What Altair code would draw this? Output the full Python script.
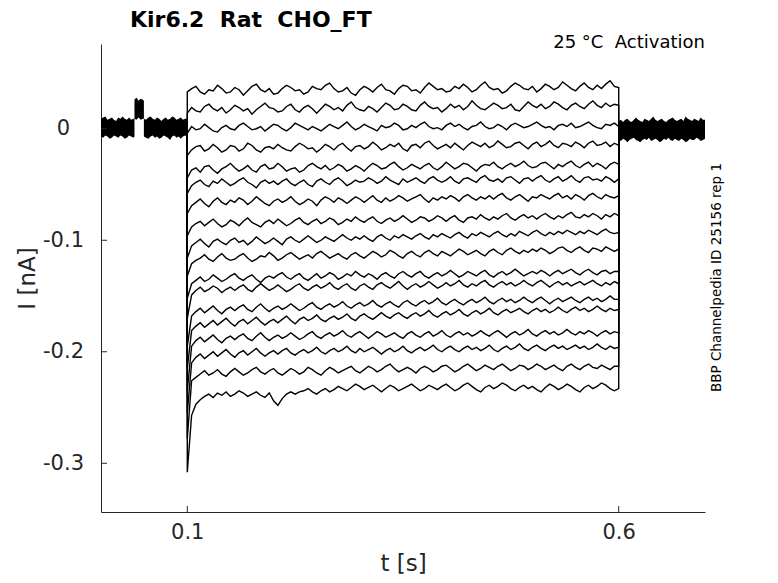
import altair as alt
import numpy as np
import pandas as pd

# ---------------- text ----------------
TITLE = "Kir6.2 \u00a0Rat \u00a0CHO_FT"
CONDITION = "25 °C \u00a0Activation"
SOURCE = "BBP Channelpedia ID 25156 rep 1"
X_TITLE = "t [s]"
Y_TITLE = "I [nA]"

X_TICKS = [0.1, 0.6]
Y_TICKS = [0.0, -0.1, -0.2, -0.3]
X_DOMAIN = [0.0, 0.7]
Y_DOMAIN = [-0.3437, 0.076]

# step protocol (s) and holding current (pA)
STEP_START = 0.1
STEP_END = 0.6
HOLD_PA = 0

# ---------------- current traces during the step (pA, every 5 ms from 0.100 to 0.600 s) ----------------
TRACE_01 = [33,
            36, 38, 33, 31, 35, 34, 39, 36, 32, 33,
            37, 35, 30, 34, 38, 40, 35, 33, 36, 31,
            32, 36, 39, 37, 34, 35, 31, 33, 38, 36,
            35, 39, 41, 36, 33, 34, 37, 32, 30, 35,
            38, 36, 33, 37, 40, 35, 34, 31, 36, 39,
            38, 34, 35, 32, 37, 41, 38, 35, 36, 33,
            34, 38, 36, 40, 37, 33, 35, 39, 42, 37,
            35, 36, 32, 34, 38, 41, 39, 36, 35, 38,
            33, 36, 40, 38, 35, 37, 42, 39, 36, 34,
            38, 41, 37, 35, 39, 36, 40, 43, 38, 37]
TRACE_02 = [14,
            19, 16, 15, 20, 22, 18, 16, 19, 14, 17,
            21, 19, 16, 18, 13, 17, 20, 23, 19, 18,
            15, 16, 20, 22, 17, 15, 19, 21, 18, 14,
            18, 22, 20, 17, 19, 16, 21, 24, 19, 17,
            16, 20, 18, 15, 19, 23, 21, 17, 18, 22,
            20, 17, 16, 21, 24, 20, 18, 19, 15, 18,
            22, 19, 21, 17, 20, 25, 21, 18, 17, 20,
            23, 21, 18, 19, 22, 17, 16, 20, 24, 21,
            19, 22, 18, 20, 24, 22, 19, 17, 21, 23,
            20, 18, 22, 25, 21, 19, 23, 20, 22, 21]
TRACE_03 = [-4,
            2, -1, 0, 4, 1, -2, -3, 1, 3, 0,
            -1, 3, 5, 2, -1, 0, 2, -2, 1, 4,
            3, 0, -2, 1, 5, 3, 1, -1, 2, 0,
            -2, 1, 4, 2, 0, 3, 6, 2, -1, 1,
            4, 2, 0, -2, 3, 1, 2, 5, 3, -1,
            0, 3, 1, 4, 6, 2, 0, 1, -1, 3,
            5, 2, 4, 1, -1, 2, 3, 6, 2, 0,
            1, 4, 2, -1, 3, 5, 3, 1, 2, 4,
            6, 3, 1, 2, -1, 3, 4, 2, 5, 1,
            2, 4, 6, 3, 1, 0, 4, 3, 5, 2]
TRACE_04 = [-24,
            -19, -16, -15, -20, -18, -14, -17, -21, -19, -15,
            -16, -20, -18, -13, -15, -19, -21, -17, -16, -18,
            -14, -17, -19, -20, -16, -13, -15, -18, -17, -21,
            -18, -14, -16, -19, -15, -13, -17, -20, -16, -15,
            -18, -16, -12, -15, -19, -17, -14, -16, -13, -18,
            -20, -15, -14, -17, -13, -11, -15, -18, -16, -14,
            -17, -13, -16, -19, -15, -12, -14, -16, -13, -17,
            -15, -11, -14, -17, -16, -13, -12, -15, -18, -14,
            -12, -16, -14, -11, -15, -17, -13, -14, -16, -12,
            -14, -17, -13, -11, -15, -14, -12, -16, -13, -15]
TRACE_05 = [-44,
            -37, -35, -39, -34, -33, -37, -40, -36, -34, -31,
            -35, -38, -36, -33, -37, -39, -34, -32, -36, -35,
            -31, -34, -38, -36, -35, -39, -37, -33, -31, -34,
            -36, -33, -37, -35, -32, -34, -38, -36, -33, -35,
            -38, -34, -31, -33, -36, -35, -32, -30, -34, -37,
            -35, -32, -34, -36, -33, -31, -35, -37, -34, -30,
            -33, -36, -34, -31, -32, -35, -38, -34, -32, -33,
            -30, -34, -36, -33, -31, -34, -32, -29, -33, -35,
            -34, -31, -30, -33, -36, -32, -34, -31, -29, -33,
            -35, -32, -30, -34, -31, -33, -36, -32, -30, -32]
TRACE_06 = [-58,
            -51, -48, -46, -50, -52, -47, -49, -45, -48, -51,
            -49, -46, -44, -48, -50, -53, -48, -46, -49, -47,
            -50, -47, -45, -49, -51, -48, -46, -50, -52, -47,
            -45, -48, -50, -46, -44, -47, -51, -49, -46, -48,
            -47, -44, -46, -49, -47, -43, -46, -48, -50, -45,
            -48, -46, -44, -47, -49, -45, -43, -46, -48, -46,
            -43, -47, -49, -45, -44, -46, -48, -44, -42, -46,
            -47, -45, -48, -44, -43, -46, -49, -45, -44, -47,
            -44, -42, -46, -48, -45, -43, -47, -45, -42, -46,
            -48, -44, -43, -46, -45, -47, -43, -45, -48, -45]
TRACE_07 = [-76,
            -69, -66, -63, -67, -70, -65, -62, -66, -68, -64,
            -66, -62, -64, -68, -65, -61, -64, -67, -69, -65,
            -63, -66, -64, -61, -65, -68, -66, -63, -65, -69,
            -64, -61, -63, -66, -62, -64, -67, -64, -61, -63,
            -66, -63, -60, -64, -66, -62, -65, -63, -60, -62,
            -65, -63, -61, -59, -63, -66, -62, -64, -61, -63,
            -60, -62, -65, -61, -59, -62, -64, -61, -63, -60,
            -63, -60, -58, -62, -64, -61, -59, -62, -65, -61,
            -62, -59, -61, -63, -60, -58, -62, -60, -63, -59,
            -61, -64, -60, -58, -61, -63, -59, -61, -62, -60]
TRACE_08 = [-96,
            -88, -85, -83, -87, -84, -81, -85, -88, -86, -82,
            -84, -87, -83, -80, -84, -86, -88, -84, -82, -85,
            -81, -84, -87, -85, -82, -80, -84, -86, -83, -81,
            -85, -83, -80, -82, -86, -84, -81, -83, -79, -82,
            -84, -81, -79, -83, -85, -82, -80, -83, -81, -78,
            -81, -84, -82, -79, -80, -83, -81, -78, -80, -83,
            -80, -78, -82, -84, -80, -79, -81, -77, -80, -82,
            -79, -81, -78, -76, -80, -82, -79, -77, -80, -78,
            -81, -78, -76, -79, -81, -78, -80, -77, -75, -79,
            -80, -77, -79, -76, -78, -81, -77, -79, -76, -78]
TRACE_09 = [-116,
            -105, -102, -99, -103, -106, -101, -99, -102, -104, -100,
            -98, -102, -100, -104, -101, -97, -100, -103, -101, -98,
            -101, -104, -99, -97, -100, -102, -99, -96, -99, -102,
            -100, -97, -99, -101, -98, -95, -98, -100, -97, -99,
            -96, -99, -101, -97, -95, -98, -100, -96, -98, -95,
            -97, -99, -96, -94, -97, -99, -95, -97, -94, -96,
            -98, -95, -93, -96, -98, -94, -96, -93, -95, -97,
            -94, -92, -95, -97, -94, -96, -92, -94, -96, -93,
            -91, -94, -96, -93, -95, -92, -94, -91, -93, -95,
            -92, -94, -91, -93, -95, -92, -90, -93, -94, -93]
TRACE_10 = [-132,
            -121, -118, -116, -113, -117, -119, -115, -112, -116, -118,
            -117, -114, -112, -116, -119, -117, -114, -115, -111, -114,
            -118, -116, -113, -111, -114, -117, -115, -113, -116, -112,
            -110, -113, -116, -114, -112, -115, -117, -113, -111, -114,
            -116, -113, -110, -112, -115, -113, -109, -111, -114, -116,
            -112, -110, -113, -115, -111, -109, -112, -114, -110, -112,
            -114, -111, -108, -110, -113, -111, -109, -112, -114, -110,
            -108, -111, -113, -109, -107, -110, -112, -109, -111, -108,
            -110, -107, -109, -112, -110, -107, -106, -109, -111, -108,
            -106, -109, -111, -107, -108, -110, -106, -108, -110, -108]
TRACE_11 = [-152,
            -139, -136, -133, -137, -135, -131, -134, -137, -135, -132,
            -130, -134, -136, -133, -131, -135, -138, -134, -132, -134,
            -131, -129, -133, -135, -132, -130, -134, -136, -133, -130,
            -134, -132, -129, -131, -135, -133, -130, -132, -128, -131,
            -133, -130, -132, -135, -131, -129, -132, -134, -130, -128,
            -131, -133, -130, -128, -132, -134, -131, -129, -132, -130,
            -127, -130, -133, -131, -128, -130, -132, -129, -127, -131,
            -133, -130, -128, -131, -129, -126, -129, -132, -130, -128,
            -130, -127, -129, -132, -129, -127, -130, -128, -126, -129,
            -131, -128, -126, -129, -131, -128, -127, -130, -128, -128]
TRACE_12 = [-170,
            -149, -145, -142, -146, -144, -141, -143, -147, -144, -142,
            -145, -142, -140, -144, -146, -142, -139, -142, -145, -143,
            -140, -143, -146, -144, -141, -139, -143, -145, -142, -140,
            -143, -141, -138, -142, -144, -141, -139, -143, -145, -141,
            -139, -142, -144, -140, -138, -141, -143, -140, -137, -141,
            -144, -141, -139, -142, -140, -137, -140, -143, -141, -138,
            -141, -139, -136, -140, -142, -139, -141, -138, -136, -140,
            -142, -139, -137, -140, -138, -141, -139, -136, -139, -141,
            -138, -136, -139, -142, -139, -137, -140, -138, -141, -139,
            -137, -140, -138, -136, -139, -141, -138, -140, -137, -139]
TRACE_13 = [-195,
            -168, -164, -161, -165, -162, -159, -163, -166, -162, -160,
            -163, -160, -158, -162, -164, -160, -157, -161, -164, -161,
            -159, -162, -160, -157, -160, -163, -161, -158, -156, -160,
            -162, -159, -157, -160, -158, -155, -159, -161, -158, -156,
            -159, -157, -154, -158, -160, -157, -155, -158, -160, -156,
            -154, -157, -159, -156, -154, -157, -155, -152, -156, -158,
            -155, -153, -156, -158, -155, -153, -156, -154, -151, -155,
            -157, -154, -152, -155, -153, -156, -154, -151, -154, -156,
            -153, -151, -154, -157, -154, -152, -155, -153, -151, -154,
            -156, -153, -151, -154, -152, -155, -153, -150, -153, -153]
TRACE_14 = [-215,
            -181, -177, -174, -178, -175, -172, -176, -173, -170, -174,
            -177, -173, -171, -175, -172, -169, -173, -176, -173, -171,
            -174, -171, -168, -172, -175, -171, -169, -172, -170, -167,
            -171, -173, -170, -168, -171, -169, -166, -170, -172, -168,
            -166, -169, -171, -168, -165, -168, -170, -167, -165, -168,
            -170, -167, -165, -168, -166, -163, -167, -169, -166, -164,
            -167, -165, -162, -166, -168, -165, -163, -166, -164, -161,
            -165, -167, -164, -162, -165, -163, -161, -164, -166, -163,
            -161, -164, -162, -165, -163, -160, -163, -165, -162, -160,
            -163, -161, -164, -162, -159, -162, -164, -161, -163, -162]
TRACE_15 = [-235,
            -195, -190, -187, -191, -188, -185, -189, -192, -188, -186,
            -189, -186, -184, -188, -190, -186, -183, -187, -190, -187,
            -185, -188, -186, -183, -186, -189, -187, -184, -182, -186,
            -188, -185, -183, -186, -184, -181, -185, -187, -184, -182,
            -185, -188, -185, -182, -184, -187, -185, -183, -186, -188,
            -184, -182, -185, -187, -184, -182, -186, -184, -181, -185,
            -187, -184, -182, -185, -183, -186, -184, -181, -184, -186,
            -183, -181, -184, -187, -184, -182, -185, -183, -180, -184,
            -186, -183, -181, -184, -182, -185, -183, -180, -183, -185,
            -182, -184, -181, -183, -186, -183, -181, -184, -182, -183]
TRACE_16 = [-255,
            -210, -205, -202, -206, -203, -200, -204, -201, -198, -202,
            -205, -201, -199, -203, -200, -197, -201, -204, -201, -199,
            -202, -199, -197, -201, -203, -200, -198, -201, -199, -196,
            -200, -202, -199, -197, -200, -198, -195, -199, -201, -197,
            -200, -198, -196, -199, -202, -199, -197, -200, -198, -195,
            -199, -201, -198, -196, -199, -197, -194, -198, -200, -197,
            -195, -198, -200, -197, -195, -198, -196, -199, -197, -194,
            -198, -200, -197, -195, -198, -196, -193, -197, -199, -196,
            -194, -197, -199, -196, -194, -197, -195, -198, -196, -194,
            -197, -195, -198, -196, -193, -196, -198, -195, -197, -196]
TRACE_17 = [-278,
            -226, -223, -220, -217, -221, -219, -216, -220, -222, -218,
            -215, -218, -221, -219, -216, -214, -218, -220, -217, -215,
            -219, -221, -218, -215, -217, -220, -218, -214, -216, -219,
            -221, -217, -214, -216, -219, -217, -215, -213, -217, -219,
            -216, -213, -215, -218, -216, -213, -211, -215, -218, -216,
            -214, -216, -219, -215, -213, -215, -218, -216, -213, -212,
            -215, -218, -216, -213, -211, -214, -217, -215, -212, -214,
            -216, -213, -211, -214, -217, -215, -212, -213, -216, -214,
            -211, -213, -216, -214, -212, -215, -217, -213, -211, -214,
            -216, -213, -211, -214, -215, -212, -214, -216, -213, -213]
TRACE_18 = [-308,
            -257, -247, -243, -240, -238, -241, -237, -239, -236, -240,
            -238, -235, -237, -240, -238, -236, -239, -241, -237, -244,
            -248, -242, -238, -236, -238, -236, -235, -233, -236, -238,
            -235, -233, -236, -234, -231, -233, -235, -232, -229, -231,
            -234, -232, -230, -233, -236, -233, -230, -232, -235, -233,
            -231, -229, -232, -235, -233, -230, -232, -234, -231, -229,
            -232, -235, -233, -230, -228, -231, -234, -236, -232, -230,
            -233, -231, -228, -230, -233, -235, -232, -230, -233, -231,
            -234, -236, -232, -229, -231, -234, -232, -229, -231, -234,
            -236, -232, -230, -233, -231, -228, -230, -233, -235, -233]

TRACES = [TRACE_01, TRACE_02, TRACE_03, TRACE_04, TRACE_05, TRACE_06,
          TRACE_07, TRACE_08, TRACE_09, TRACE_10, TRACE_11, TRACE_12,
          TRACE_13, TRACE_14, TRACE_15, TRACE_16, TRACE_17, TRACE_18]

# ---------------- holding-level noise envelope of all sweeps (pA) ----------------
PRE1_T = [0.000, 0.0025, 0.005, 0.0075, 0.010, 0.0125, 0.015, 0.0175, 0.020,
          0.0225, 0.025, 0.0275, 0.030, 0.0325, 0.035, 0.0375, 0.0388]
PRE1_HI = [9, 10, 11, 8, 9, 10, 8, 7, 10, 9, 11, 9, 8, 10, 8, 9, 9]
PRE1_LO = [-7, -8, -6, -7, -9, -8, -6, -7, -8, -6, -7, -9, -8, -6, -7, -8, -7]

PULSE_T = [0.0388, 0.041, 0.0435, 0.046, 0.0485, 0.0497]
PULSE_HI = [26, 28, 25, 27, 26, 25]
PULSE_LO = [9, 8, 10, 8, 9, 9]

PRE2_T = [0.0497, 0.052, 0.055, 0.0575, 0.060, 0.0625, 0.065, 0.0675, 0.070,
          0.0725, 0.075, 0.0775, 0.080, 0.0825, 0.085, 0.0875, 0.090, 0.0925,
          0.095, 0.0975, 0.100]
PRE2_HI = [9, 8, 10, 11, 9, 8, 10, 9, 7, 9, 10, 8, 9, 11, 10, 8, 9, 10, 8, 9, 9]
PRE2_LO = [-7, -8, -9, -7, -6, -8, -7, -9, -8, -6, -7, -8, -10, -7, -6, -8, -7, -9, -7, -6, -7]

POST_T = [0.600, 0.6025, 0.605, 0.6075, 0.610, 0.6125, 0.615, 0.6175, 0.620,
          0.6225, 0.625, 0.6275, 0.630, 0.6325, 0.635, 0.6375, 0.640, 0.6425,
          0.645, 0.6475, 0.650, 0.6525, 0.655, 0.6575, 0.660, 0.6625, 0.665,
          0.6675, 0.670, 0.6725, 0.675, 0.6775, 0.680, 0.6825, 0.685, 0.6875,
          0.690, 0.6925, 0.695, 0.6975, 0.700]
POST_HI = [7, 8, 6, 8, 9, 7, 6, 8, 10, 8, 7, 6, 9, 8, 7, 9, 11, 8, 7, 8, 9,
           7, 6, 8, 9, 10, 8, 7, 8, 9, 7, 11, 9, 8, 7, 9, 8, 7, 10, 8, 8]
POST_LO = [-10, -11, -9, -10, -12, -10, -9, -8, -10, -11, -12, -10, -9, -10,
           -8, -11, -10, -9, -10, -12, -11, -9, -10, -8, -10, -11, -9, -10,
           -11, -9, -10, -12, -11, -9, -10, -10, -8, -9, -11, -10, -9]

# ---------------- tables ----------------
rows = []
for k, vals in enumerate(TRACES):
    times = np.linspace(STEP_START, STEP_END, len(vals))
    rows.append({"trace": k, "i": 0, "t": STEP_START, "I": HOLD_PA / 1000})
    for j, (tt, v) in enumerate(zip(times, vals)):
        rows.append({"trace": k, "i": j + 1, "t": float(tt), "I": v / 1000})
    rows.append({"trace": k, "i": len(vals) + 1, "t": STEP_END, "I": HOLD_PA / 1000})
traces_df = pd.DataFrame(rows)

band_rows = []
for seg, (ts, hi, lo) in enumerate([(PRE1_T, PRE1_HI, PRE1_LO),
                                     (PULSE_T, PULSE_HI, PULSE_LO),
                                     (PRE2_T, PRE2_HI, PRE2_LO),
                                     (POST_T, POST_HI, POST_LO)]):
    for tt, h, l in zip(ts, hi, lo):
        band_rows.append({"seg": seg, "t": tt, "hi": h / 1000, "lo": l / 1000})
band_df = pd.DataFrame(band_rows)

FONT = "DejaVu Sans"
AX = "#262626"
W, H = 604, 468

xscale = alt.Scale(domain=X_DOMAIN, nice=False, zero=False)
yscale = alt.Scale(domain=Y_DOMAIN, nice=False, zero=False)

xaxis = alt.Axis(values=X_TICKS, format=".1f", title=X_TITLE, grid=False,
                 ticks=False, tickSize=0, labelPadding=9, labelFontSize=21,
                 titleFontSize=23, titleBaseline="alphabetic", titleY=58,
                 domainColor=AX, labelColor=AX, titleColor=AX,
                 titleFontWeight="normal", labelFont=FONT, titleFont=FONT)
yaxis = alt.Axis(values=Y_TICKS, title=Y_TITLE, grid=False, ticks=False,
                 tickSize=0, labelAlign="center", labelBaseline="middle",
                 labelPadding=38, labelFontSize=21, titleFontSize=23,
                 titlePadding=3, domainColor=AX, labelColor=AX,
                 titleColor=AX, titleFontWeight="normal", labelFont=FONT,
                 titleFont=FONT,
                 labelExpr="datum.value == 0 ? '0' : (datum.value < 0 ? '-' : '') + format(abs(datum.value), '.1f')")

band = alt.Chart(band_df).mark_area(color="black", interpolate="linear").encode(
    x=alt.X("t:Q", scale=xscale, axis=xaxis),
    y=alt.Y("hi:Q", scale=yscale, axis=yaxis),
    y2="lo:Q",
    detail="seg:N",
)

lines = alt.Chart(traces_df).mark_line(color="black", strokeWidth=1.4).encode(
    x=alt.X("t:Q", scale=xscale, axis=xaxis),
    y=alt.Y("I:Q", scale=yscale, axis=yaxis),
    detail="trace:N",
    order="i:Q",
)

ytick_df = pd.DataFrame({"v": Y_TICKS})
xtick_df = pd.DataFrame({"v": X_TICKS})
yticks = alt.Chart(ytick_df).mark_rule(color=AX, strokeWidth=1).encode(
    y=alt.Y("v:Q", scale=yscale, axis=yaxis), x=alt.value(0), x2=alt.value(6))
xticks = alt.Chart(xtick_df).mark_rule(color=AX, strokeWidth=1).encode(
    x=alt.X("v:Q", scale=xscale, axis=xaxis), y=alt.value(H), y2=alt.value(H - 6))

title_txt = alt.Chart(pd.DataFrame({"s": [TITLE]})).mark_text(
    align="left", baseline="alphabetic", font=FONT, fontSize=22,
    fontWeight="bold", color="black").encode(
    text="s:N", x=alt.value(29), y=alt.value(-17))
cond_txt = alt.Chart(pd.DataFrame({"s": [CONDITION]})).mark_text(
    align="right", baseline="alphabetic", font=FONT, fontSize=18,
    color="black").encode(text="s:N", x=alt.value(W), y=alt.value(4))
src_txt = alt.Chart(pd.DataFrame({"s": [SOURCE]})).mark_text(
    align="center", baseline="middle", font=FONT, fontSize=13.5, angle=270,
    color="black").encode(text="s:N", x=alt.value(616), y=alt.value(H / 2 - 0.5))

chart = alt.layer(band, lines, yticks, xticks, title_txt, cond_txt, src_txt).properties(
    width=W, height=H,
    padding={"left": 93, "top": 36, "right": 60, "bottom": 63},
    autosize=alt.AutoSizeParams(type="none"),
    background="white",
).configure_view(stroke=None)

chart.save("out.html", embed_options={"renderer": "svg", "actions": False})
